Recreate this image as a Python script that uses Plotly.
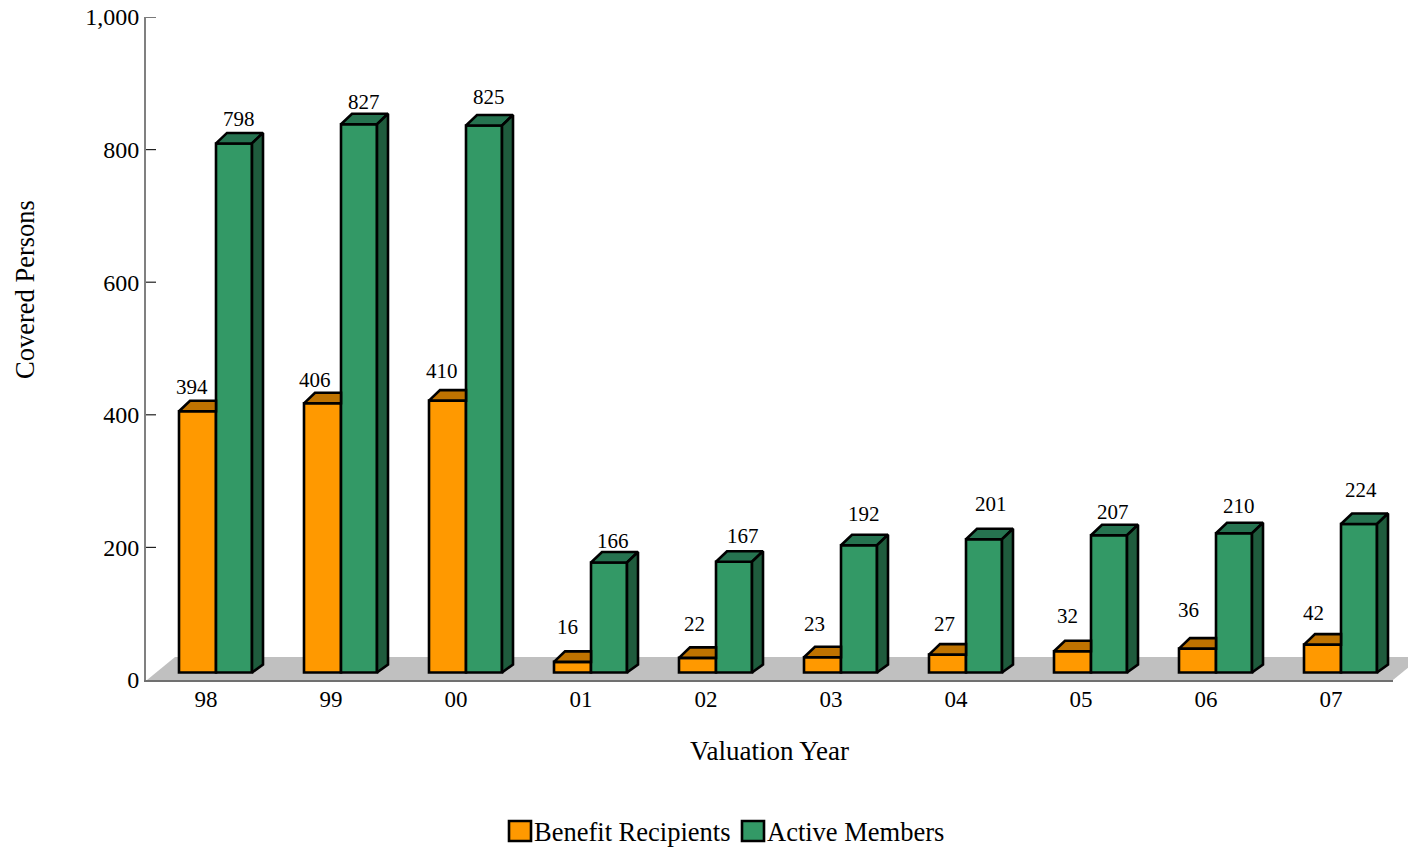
import plotly.graph_objects as go

years = ["98", "99", "00", "01", "02", "03", "04", "05", "06", "07"]
benefit_recipients = [394, 406, 410, 16, 22, 23, 27, 32, 36, 42]
active_members = [798, 827, 825, 166, 167, 192, 201, 207, 210, 224]
y_ticks = [0, 200, 400, 600, 800, 1000]
y_tick_labels = ["0", "200", "400", "600", "800", "1,000"]

# per-label placement (pixels, relative to the front top centre of each bar)
br_dx = [-6, -8, -6, -5, -3, -8, -3, -5, -9, -9]
br_dy = [24, 23, 30, 35, 34, 33, 31, 35, 39, 32]
am_dx = [5, 5, 5, 4, 9, 5, 7, 4, 5, 2]
am_dy = [24, 22, 29, 21, 26, 31, 35, 23, 27, 34]

W, H = 1408, 848
L, R, T, B = 146, 1393, 17, 680
FONT = "Liberation Serif"
ORANGE, ORANGE_TOP = "#FF9900", "#BF7300"
GREEN, GREEN_TOP, GREEN_SIDE = "#339966", "#267350", "#1F5C3D"
EDGE = 2.6

cat_px = 125.0
x0_px = 206.0
xrange_ = [(L - x0_px) / cat_px, (R - x0_px) / cat_px]
px_per_unit = (B - T) / 1000.0
base = 7.5 / px_per_unit

left_o = (179 - x0_px) / cat_px
left_g = (216 - x0_px) / cat_px
right_g = (252 - x0_px) / cat_px
dx = 11 / cat_px
dy_top = 10.5 / px_per_unit
dy_bot = 8 / px_per_unit
idx = list(range(len(years)))


def px(x):
    return (x - L) / (R - L)


def py(y):
    return (B - y) / (B - T)


fig = go.Figure()
fig.add_bar(x=idx, y=benefit_recipients, base=base, offset=left_o, width=left_g - left_o,
            marker=dict(color=ORANGE, line=dict(color="black", width=EDGE)),
            name="Benefit Recipients", showlegend=False, hoverinfo="skip")
fig.add_bar(x=idx, y=active_members, base=base, offset=left_g, width=right_g - left_g,
            marker=dict(color=GREEN, line=dict(color="black", width=EDGE)),
            name="Active Members", showlegend=False, hoverinfo="skip")


def faces(build):
    xs, ys = [], []
    for i in idx:
        px_, py_ = build(i)
        xs += px_ + [None]
        ys += py_ + [None]
    return xs, ys


def face_trace(build, color):
    xs, ys = faces(build)
    fig.add_scatter(x=xs, y=ys, mode="lines", fill="toself", fillcolor=color,
                    line=dict(color="black", width=EDGE, simplify=False),
                    showlegend=False, hoverinfo="skip")


face_trace(lambda i: ([i + left_o, i + left_o + dx, i + left_g, i + left_g, i + left_o],
                      [base + benefit_recipients[i], base + benefit_recipients[i] + dy_top,
                       base + benefit_recipients[i] + dy_top, base + benefit_recipients[i],
                       base + benefit_recipients[i]]), ORANGE_TOP)
face_trace(lambda i: ([i + left_g, i + left_g + dx, i + right_g + dx, i + right_g, i + left_g],
                      [base + active_members[i], base + active_members[i] + dy_top,
                       base + active_members[i] + dy_top, base + active_members[i],
                       base + active_members[i]]), GREEN_TOP)
face_trace(lambda i: ([i + right_g, i + right_g + dx, i + right_g + dx, i + right_g, i + right_g],
                      [base, base + dy_bot, base + active_members[i] + dy_top,
                       base + active_members[i], base]), GREEN_SIDE)

annotations = []
for i in idx:
    annotations.append(dict(x=i + (left_o + left_g) / 2, y=base + benefit_recipients[i],
                            text=str(benefit_recipients[i]), showarrow=False,
                            xshift=br_dx[i], yshift=br_dy[i], yanchor="middle", xanchor="center"))
    annotations.append(dict(x=i + (left_g + right_g) / 2, y=base + active_members[i],
                            text=str(active_members[i]), showarrow=False,
                            xshift=am_dx[i], yshift=am_dy[i], yanchor="middle", xanchor="center"))

annotations.append(dict(xref="paper", yref="paper", x=px(25), y=py(290), text="Covered Persons",
                        textangle=-90, showarrow=False, xanchor="center", yanchor="middle",
                        font=dict(size=26.5)))
annotations.append(dict(xref="paper", yref="paper", x=px(769), y=py(751), text="Valuation Year",
                        showarrow=False, xanchor="center", yanchor="middle", font=dict(size=27)))
annotations.append(dict(xref="paper", yref="paper", x=px(532), y=py(832), text="Benefit Recipients",
                        xanchor="left", yanchor="middle", showarrow=False, font=dict(size=26.5)))
annotations.append(dict(xref="paper", yref="paper", x=px(765), y=py(832), text="Active Members",
                        xanchor="left", yanchor="middle", showarrow=False, font=dict(size=26.5)))


def swatch(x0, x1, color):
    return dict(type="rect", xref="paper", yref="paper", x0=px(x0), x1=px(x1), y0=py(821), y1=py(841),
                fillcolor=color, line=dict(color="black", width=EDGE))


floor = dict(type="path", xref="paper", yref="paper", layer="below",
             path=f"M {px(147)} {py(680)} L {px(175)} {py(657)} L {px(1421)} {py(657)} L {px(1393)} {py(680)} Z",
             fillcolor="#C0C0C0", line=dict(width=0))

tick_marks = [dict(type="line", xref="paper", yref="y", x0=0, x1=10 / (R - L), y0=v, y1=v,
                   line=dict(color="#202020", width=1.2)) for v in y_ticks[1:]]

fig.update_layout(
    width=W, height=H, autosize=False,
    margin=dict(l=L, r=W - R, t=T, b=H - B),
    paper_bgcolor="white", plot_bgcolor="rgba(0,0,0,0)",
    font=dict(family=FONT, size=21, color="black"),
    barmode="overlay", showlegend=False,
    annotations=annotations,
    shapes=[floor, swatch(509, 531, ORANGE), swatch(742, 764, GREEN)] + tick_marks,
    xaxis=dict(range=xrange_, tickmode="array", tickvals=idx, ticktext=years, ticks="",
               automargin=False, showgrid=False, zeroline=False, showline=True,
               linecolor="#707070", linewidth=2, tickfont=dict(size=23), ticklabelstandoff=-3),
    yaxis=dict(range=[0, 1000], tickmode="array", tickvals=y_ticks, ticktext=y_tick_labels,
               ticks="", automargin=False, showgrid=False, zeroline=False,
               showline=True, linecolor="#808080", linewidth=2, tickfont=dict(size=24),
               ticklabelstandoff=0),
)

fig.write_html("out.html", config=dict(displayModeBar=False),
               post_script="document.body.style.margin='0';document.body.style.overflow='hidden';")
